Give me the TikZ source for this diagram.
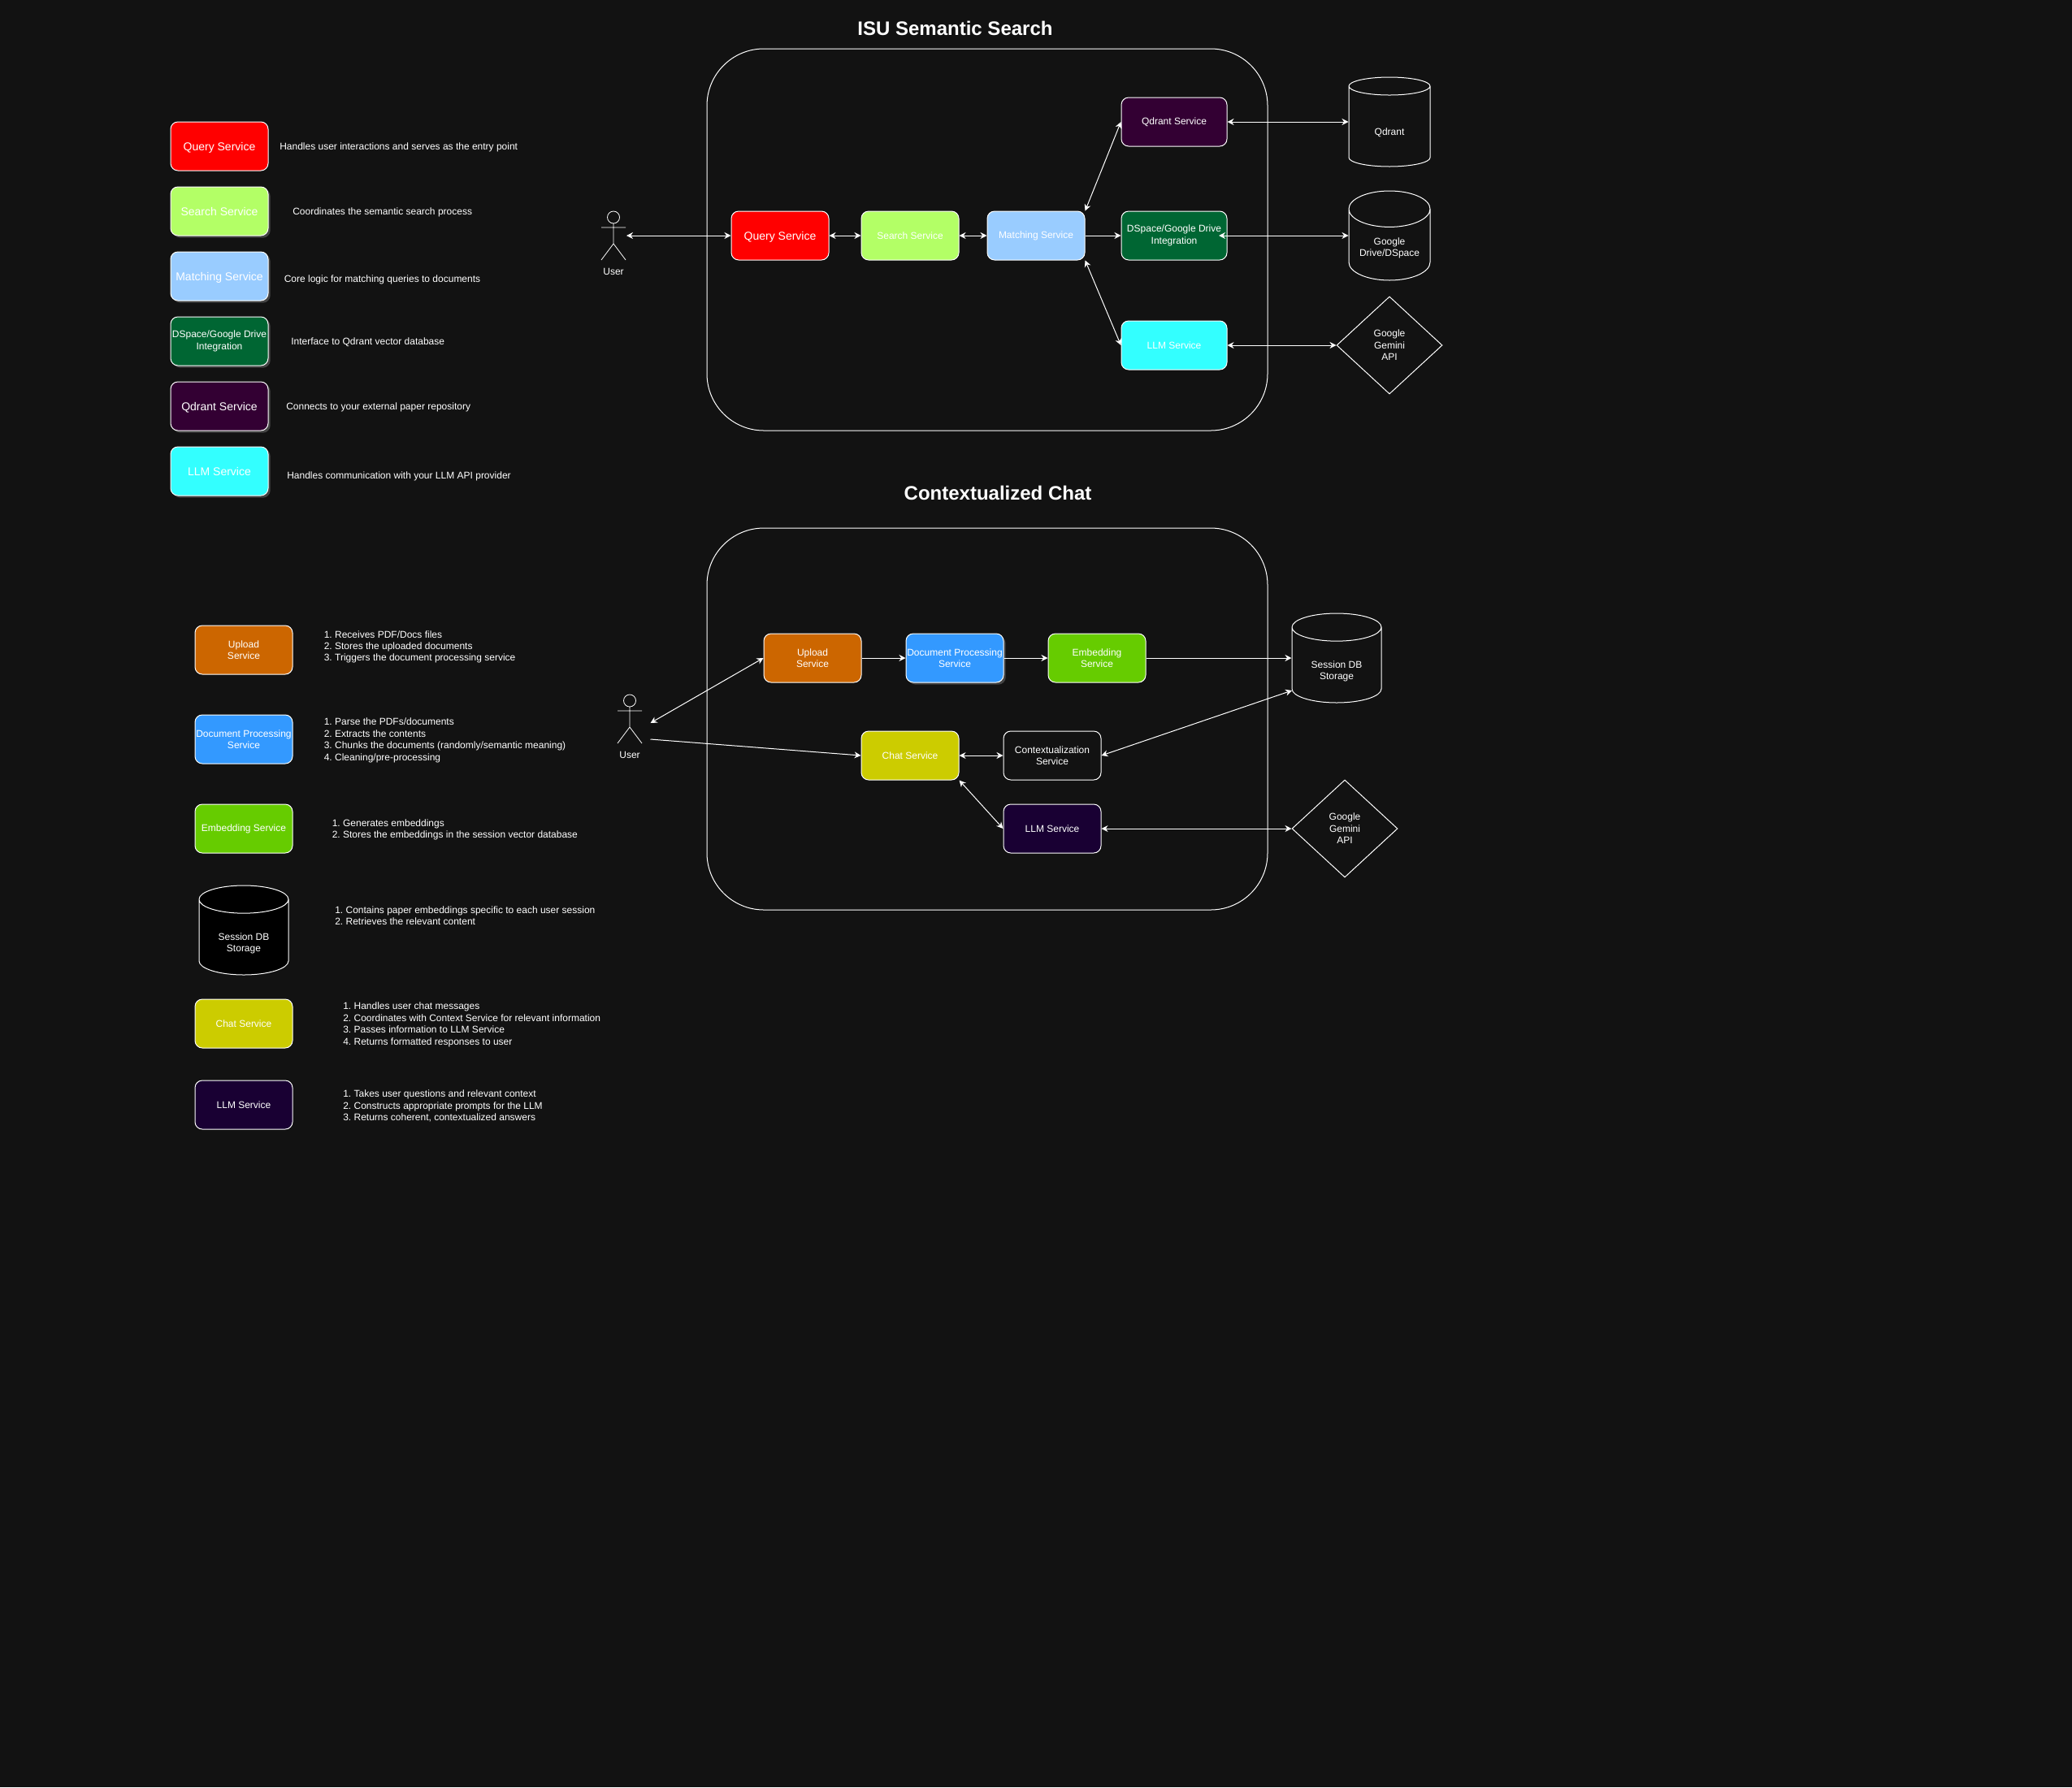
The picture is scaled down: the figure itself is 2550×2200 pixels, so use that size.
\documentclass[tikz,border=0pt]{standalone}
\usepackage{fontspec}
\setmainfont{Liberation Sans}
\usetikzlibrary{arrows.meta,shapes.geometric,shadows}

\definecolor{bgdark}{HTML}{121212}
\definecolor{queryred}{HTML}{FF0000}
\definecolor{searchlime}{HTML}{B3FF66}
\definecolor{matchblue}{HTML}{99CCFF}
\definecolor{drivegreen}{HTML}{006633}
\definecolor{qdrantpurple}{HTML}{330033}
\definecolor{llmcyan}{HTML}{33FFFF}
\definecolor{uploadorange}{HTML}{CC6600}
\definecolor{docblue}{HTML}{3399FF}
\definecolor{embedgreen}{HTML}{66CC00}
\definecolor{chatyellow}{HTML}{CCCC00}
\definecolor{llmnavy}{HTML}{190033}

\newcommand{\nitem}[1]{#1.\kern2.5pt}
\newcommand{\dbstrut}[1]{\rule{0pt}{#1}}

\tikzset{
  svc/.style={draw=white,line width=0.75pt,rounded corners=6.75pt,text=white,align=center,
    minimum width=90pt,minimum height=45pt,inner sep=0pt,font=\fontsize{9}{10.8}\selectfont},
  big/.style={font=\fontsize{10.5}{12.6}\selectfont,text depth=0pt},
  wide/.style={minimum width=97.5pt},
  shadowed/.style={drop shadow={shadow xshift=2pt,shadow yshift=-2pt,fill=gray,opacity=0.45}},
  note/.style={text=white,anchor=west,align=left,inner sep=0pt,yshift=-1.1pt,font=\fontsize{9}{10.8}\selectfont},
  heading/.style={text=white,inner sep=0pt,font=\fontsize{18}{21.6}\selectfont\bfseries},
  frame/.style={draw=white,line width=0.75pt,rounded corners=52.5pt},
  dbase/.style={cylinder,shape border rotate=90,aspect=0.6,anchor=shape center,draw=white,line width=0.75pt,text=white,
    align=center,inner sep=0pt,minimum width=75pt,minimum height=82.5pt,font=\fontsize{9}{10.8}\selectfont},
  dbwide/.style={aspect=0.545,minimum width=82.5pt},
  api/.style={diamond,draw=white,line width=0.75pt,text=white,align=center,inner sep=0pt,
    minimum width=97.5pt,minimum height=90pt,font=\fontsize{9}{10.8}\selectfont},
  userlabel/.style={text=white,inner sep=0pt,font=\fontsize{9}{10.8}\selectfont},
  link/.style={draw=white,line width=0.75pt,>={Stealth[length=6pt,width=6pt]}},
  actorfig/.pic={
    \draw[white,line width=0.6pt] (0,-22.5) circle (7.5)
      (0,-15) -- (0,10) (-15,-10) -- (15,-10) (-15,30) -- (0,10) -- (15,30);
  }
}

\begin{document}
\begin{tikzpicture}[x=0.75pt,y=-0.75pt]

\fill[bgdark] (0,0) rectangle (2550,2200);
\useasboundingbox (0,0) rectangle (2550,2200);

\node[heading] (titlesearch) at (1175.5,35) {ISU Semantic Search};
\node[heading] (titlechat) at (1228,607) {Contextualized Chat};

\draw[frame] (870,60) rectangle (1560,530);
\draw[frame] (870,650) rectangle (1560,1120);

% legend, semantic search
\node[svc,big,fill=queryred] (lquery) at (270,180) {Query Service};
\node[svc,big,fill=searchlime,shadowed] (lsearch) at (270,260) {Search Service};
\node[svc,big,fill=matchblue,shadowed] (lmatch) at (270,340) {Matching Service};
\node[svc,fill=drivegreen,shadowed] (ldrive) at (270,420) {DSpace/Google Drive\\Integration};
\node[svc,big,fill=qdrantpurple,shadowed] (lqdrant) at (270,500) {Qdrant Service};
\node[svc,big,fill=llmcyan,shadowed] (lllm) at (270,580) {LLM Service};

\node[note] (nquery) at (344,180) {Handles user interactions and serves as the entry point};
\node[note] (nsearch) at (360,260) {Coordinates the semantic search process};
\node[note] (nmatch) at (349.5,343) {Core logic for matching queries to documents};
\node[note] (ndrive) at (358,420) {Interface to Qdrant vector database};
\node[note] (nqdrant) at (352,500) {Connects to your external paper repository};
\node[note] (nllm) at (353,584.5) {Handles communication with your LLM API provider};

% semantic search
\pic at (755,290) {actorfig};
\node[userlabel] (usersearch) at (755,334.5) {User};
\coordinate (actorsearch) at (771,290);

\node[svc,big,fill=queryred] (query) at (960,290) {Query Service};
\node[svc,fill=searchlime] (search) at (1120,290) {Search Service};
\node[svc,fill=matchblue] (match) at (1275,290) {Matching Service};
\node[svc,wide,fill=qdrantpurple] (qdrant) at (1445,150) {Qdrant Service};
\node[svc,wide,fill=drivegreen] (drive) at (1445,290) {DSpace/Google Drive\\Integration};
\node[svc,wide,fill=llmcyan] (llm) at (1445,425) {LLM Service};

\node[dbase] (qdrantdb) at (1710,150) {\dbstrut{17.5pt}Qdrant};
\node[dbase] (drivedb) at (1710,290) {\dbstrut{12.5pt}Google\\Drive/DSpace};
\node[api] (gemini) at (1710,425) {Google\\Gemini\\API};

\coordinate (drivein) at (1500,290);

\draw[link,<->] (actorsearch) -- (query.west);
\draw[link,<->] (query) -- (search);
\draw[link,<->] (search) -- (match);
\draw[link,->] (match) -- (drive);
\draw[link,<->] (match.north east) -- (qdrant.west);
\draw[link,<->] (match.south east) -- (llm.west);
\draw[link,<->] (qdrant) -- (qdrant -| qdrantdb.west);
\draw[link,<->] (drivein) -- (drivein -| drivedb.west);
\draw[link,<->] (llm) -- (gemini);

% legend, chat
\node[svc,fill=uploadorange] (lupload) at (300,800) {Upload\\Service};
\node[svc,fill=docblue] (ldoc) at (300,910) {Document Processing\\Service};
\node[svc,fill=embedgreen] (lembed) at (300,1020) {Embedding Service};
\node[dbase,dbwide,fill=black] (lsession) at (300,1145) {\dbstrut{17.5pt}Session DB\\Storage};
\node[svc,fill=chatyellow] (lchat) at (300,1260) {Chat Service};
\node[svc,fill=llmnavy] (lllmchat) at (300,1360) {LLM Service};

\node[note] (nupload) at (398.5,795) {\nitem{1}Receives PDF/Docs files\\\nitem{2}Stores the uploaded documents\\\nitem{3}Triggers the document processing service};
\node[note] (ndoc) at (398.5,910) {\nitem{1}Parse the PDFs/documents\\\nitem{2}Extracts the contents\\\nitem{3}Chunks the documents (randomly/semantic meaning)\\\nitem{4}Cleaning/pre-processing};
\node[note] (nembed) at (408.5,1020) {\nitem{1}Generates embeddings\\\nitem{2}Stores the embeddings in the session vector database};
\node[note] (nsession) at (412,1125.5) {\nitem{1}Contains paper embeddings specific to each user session\\\nitem{2}Retrieves the relevant content};
\node[note] (nchat) at (422,1260) {\nitem{1}Handles user chat messages\\\nitem{2}Coordinates with Context Service for relevant information\\\nitem{3}Passes information to LLM Service\\\nitem{4}Returns formatted responses to user};
\node[note] (nllmchat) at (422,1360) {\nitem{1}Takes user questions and relevant context\\\nitem{2}Constructs appropriate prompts for the LLM\\\nitem{3}Returns coherent, contextualized answers};

% chat
\pic at (775,885) {actorfig};
\node[userlabel] (userchat) at (775,929.5) {User};
\coordinate (actorup) at (800.5,890);
\coordinate (actorchat) at (800.5,910);

\node[svc,fill=uploadorange] (upload) at (1000,810) {Upload\\Service};
\node[svc,fill=docblue,shadowed] (doc) at (1175,810) {Document Processing\\Service};
\node[svc,fill=embedgreen] (embed) at (1350,810) {Embedding\\Service};
\node[svc,fill=chatyellow] (chat) at (1120,930) {Chat Service};
\node[svc,fill=bgdark] (context) at (1295,930) {Contextualization\\Service};
\node[svc,fill=llmnavy] (llmchat) at (1295,1020) {LLM Service};

\node[dbase,dbwide] (session) at (1645,810) {\dbstrut{17.5pt}Session DB\\Storage};
\node[api] (geminichat) at (1655,1020) {Google\\Gemini\\API};

\coordinate (sessionin) at (1590,850);

\draw[link,<->] (actorup) -- (upload.west);
\draw[link,->] (actorchat) -- (chat.west);
\draw[link,->] (upload) -- (doc);
\draw[link,->] (doc) -- (embed);
\draw[link,->] (embed) -- (embed -| session.west);
\draw[link,<->] (chat) -- (context);
\draw[link,<->] (context.east) -- (sessionin);
\draw[link,<->] (chat.south east) -- (llmchat.west);
\draw[link,<->] (llmchat) -- (geminichat);

\end{tikzpicture}
\end{document}
